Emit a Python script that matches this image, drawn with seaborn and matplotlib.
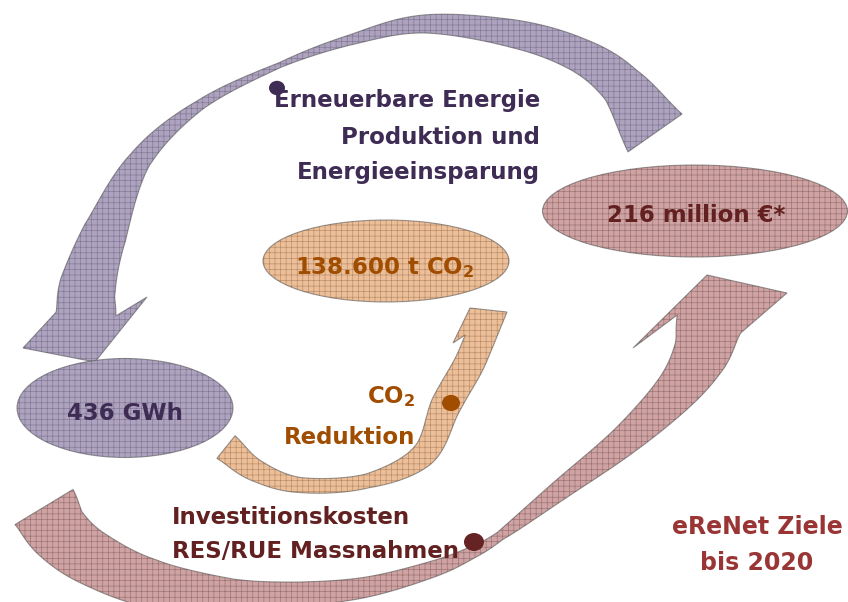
import numpy as np
import matplotlib
matplotlib.use('Agg')
import matplotlib.pyplot as plt
from matplotlib.patches import Polygon, Ellipse
import seaborn as sns

# Texts / values of the eReNet target diagram
targets = ['436 GWh', r'138.600 t CO$_\mathbf{2}$', '216 million \u20ac*']
flow_labels = [['Erneuerbare Energie', 'Produktion und', 'Energieeinsparung'],
               [r'CO$_\mathbf{2}$', 'Reduktion'],
               ['Investitionskosten', 'RES/RUE Massnahmen']]
title_lines = ['eReNet Ziele', 'bis 2020']

# colours: purple, orange, rose
fills = ['#ada3bf', '#ecbf99', '#cfa3a3']
hatches = ['#5d5270', '#8a6040', '#6e4848']
text_cols = ['#3e2c55', '#a04d00', '#632020']
dot_cols = ['#3e2c55', '#a04d00', '#652323']
title_col = '#9a3535'

sns.set_theme(style='white')
plt.rcParams['font.family'] = ['DejaVu Sans']
plt.rcParams['mathtext.fontset'] = 'dejavusans'
plt.rcParams['hatch.linewidth'] = 0.45


def spline(pts, n=30):
    p = np.array(pts, float)
    p = np.vstack([2 * p[0] - p[1], p, 2 * p[-1] - p[-2]])
    out = []
    t = np.linspace(0, 1, n, endpoint=False)[:, None]
    for i in range(1, len(p) - 2):
        p0, p1, p2, p3 = p[i - 1], p[i], p[i + 1], p[i + 2]
        out.append(0.5 * (2 * p1 + (-p0 + p2) * t + (2 * p0 - 5 * p1 + 4 * p2 - p3) * t ** 2
                          + (-p0 + 3 * p1 - 3 * p2 + p3) * t ** 3))
    out.append(p[-2][None])
    return np.vstack(out)


def arrow_poly(pts, widths, head, n=30):
    # shaft along a smooth centre line, head given as [barb, tip, barb]
    c = spline(pts, n)
    k = np.arange(len(c)) / n
    w = np.interp(k, np.arange(len(pts)), widths)
    d = np.gradient(c, axis=0)
    d /= np.linalg.norm(d, axis=1)[:, None]
    nrm = np.column_stack([-d[:, 1], d[:, 0]])
    left = c + nrm * w[:, None] / 2
    right = c - nrm * w[:, None] / 2
    head = np.array(head, float)
    if np.linalg.norm(head[0] - left[-1]) > np.linalg.norm(head[2] - left[-1]):
        head = head[::-1]
    return np.vstack([left, head, right[::-1]])


def textured(ax, patch_fn, i, z):
    ax.add_patch(patch_fn(facecolor=fills[i], edgecolor='none', zorder=z))
    ax.add_patch(patch_fn(facecolor='none', edgecolor=hatches[i], lw=0,
                          hatch='+++', alpha=0.55, zorder=z))
    ax.add_patch(patch_fn(facecolor='none', edgecolor='#4a4a4a', lw=0.8,
                          alpha=0.55, zorder=z))


fig = plt.figure(figsize=(8.48, 6.02), dpi=100, facecolor='white')
ax = fig.add_axes([0, 0, 1, 1])
ax.set_xlim(0, 848)
ax.set_ylim(602, 0)
ax.axis('off')

# purple arrow (energy)
purple = arrow_poly([(655, 133), (621, 85), (579, 55), (515, 34), (424, 24), (350, 40),
                     (280, 65), (200, 105), (140, 160), (105, 233), (88, 285), (86, 314)],
                    [66, 43, 34, 28, 18, 10, 5, 10, 22, 44, 56, 60],
                    [(23, 348), (95, 362), (147, 297)])
# orange arrow (CO2)
orange = arrow_poly([(226, 447), (255, 470), (300, 485), (367, 481), (423, 455),
                     (446, 405), (468, 366), (479, 341)],
                    [29, 22, 15, 14, 24, 30, 30, 30],
                    [(453, 343), (470, 308), (507, 312)])
# rose arrow (investment)
rose = arrow_poly([(44, 507), (60, 533), (92, 558), (150, 583), (232, 595), (300, 594),
                   (367, 587), (433, 569), (471, 553), (500, 536), (560, 490), (625, 440),
                   (675, 392), (700, 355), (709, 324)],
                  [68, 61, 55, 48, 32, 24, 20, 16, 12, 9, 20, 30, 42, 55, 66],
                  [(633, 348), (707, 275), (787, 293)])

for i, poly in enumerate([purple, orange, rose]):
    textured(ax, lambda **kw: Polygon(poly, closed=True, **kw), i, 1)

# target ellipses
ellipses = [((125, 408), 216, 99), ((386, 261), 246, 82), ((695, 211), 305, 92)]
for i, (c, w, h) in enumerate(ellipses):
    textured(ax, lambda **kw: Ellipse(c, w, h, **kw), i, 2)

txt = dict(fontsize=16.5, fontweight='bold', zorder=5)
ax.text(125, 413, targets[0], ha='center', va='center', color=text_cols[0], **txt)
ax.text(385, 268, targets[1], ha='center', va='center', color=text_cols[1], **txt)
ax.text(696, 216, targets[2], ha='center', va='center', color=text_cols[2], **txt)

for line, y in zip(flow_labels[0], [100, 137, 173]):
    ax.text(540, y, line, ha='right', va='center', color=text_cols[0], **txt)
for line, y in zip(flow_labels[1], [397, 437]):
    ax.text(415, y, line, ha='right', va='center', color=text_cols[1], **txt)
for line, y in zip(flow_labels[2], [517, 552]):
    ax.text(172, y, line, ha='left', va='center', color=text_cols[2], **txt)

for line, y in zip(title_lines, [527, 563]):
    ax.text(757, y, line, ha='center', va='center', color=title_col,
            fontsize=17, fontweight='bold', zorder=5)

# bullet dots
for (x, y), r, col in zip([(277, 88), (451, 403), (474, 542)], [8, 9, 10], dot_cols):
    ax.add_patch(Ellipse((x, y), 2 * r, 1.8 * r, facecolor=col, edgecolor='none', zorder=4))

plt.savefig('out.png', dpi=100, facecolor='white')
